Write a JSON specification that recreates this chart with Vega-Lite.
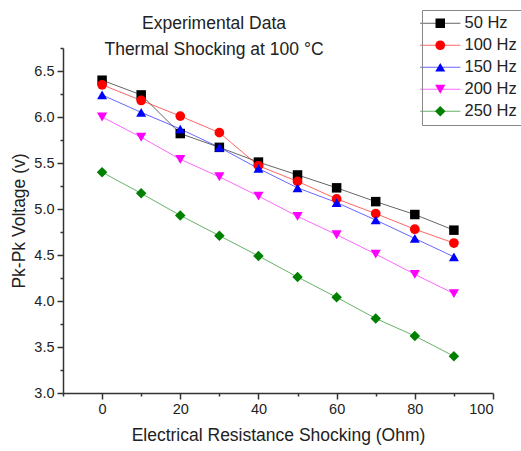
{
  "$schema": "https://vega.github.io/schema/vega-lite/v6.json",
  "width": 430,
  "height": 345,
  "autosize": {"type": "none"},
  "padding": {"left": 63, "top": 48, "right": 28, "bottom": 58},
  "background": "white",
  "title": {
    "text": ["Experimental Data", "Thermal Shocking at 100 °C"],
    "anchor": "middle",
    "frame": "group",
    "dx": -64,
    "dy": 38,
    "offset": -11,
    "fontSize": 17.5,
    "font": "Liberation Sans",
    "fontWeight": "normal",
    "color": "#222",
    "lineHeight": 26
  },
  "config": {
    "view": {"stroke": null},
    "axis": {
      "grid": false,
      "domainColor": "#333",
      "tickColor": "#333",
      "labelColor": "#222",
      "titleColor": "#222",
      "labelFont": "Liberation Sans",
      "titleFont": "Liberation Sans",
      "labelFontSize": 14.5,
      "titleFontSize": 17.5,
      "titleFontWeight": "normal",
      "tickSize": 6,
      "domainWidth": 1.5,
      "tickWidth": 1.5
    },
    "legend": {
      "labelFont": "Liberation Sans",
      "labelFontSize": 16.5,
      "labelColor": "#222"
    }
  },
  "data": {
    "values": [
      {"freq": "50 Hz", "r": 0, "v": 6.40}, {"freq": "50 Hz", "r": 10, "v": 6.24}, {"freq": "50 Hz", "r": 20, "v": 5.82}, {"freq": "50 Hz", "r": 30, "v": 5.67}, {"freq": "50 Hz", "r": 40, "v": 5.51}, {"freq": "50 Hz", "r": 50, "v": 5.37}, {"freq": "50 Hz", "r": 60, "v": 5.23}, {"freq": "50 Hz", "r": 70, "v": 5.08}, {"freq": "50 Hz", "r": 80, "v": 4.94}, {"freq": "50 Hz", "r": 90, "v": 4.77},
      {"freq": "100 Hz", "r": 0, "v": 6.35}, {"freq": "100 Hz", "r": 10, "v": 6.18}, {"freq": "100 Hz", "r": 20, "v": 6.01}, {"freq": "100 Hz", "r": 30, "v": 5.83}, {"freq": "100 Hz", "r": 40, "v": 5.47}, {"freq": "100 Hz", "r": 50, "v": 5.30}, {"freq": "100 Hz", "r": 60, "v": 5.11}, {"freq": "100 Hz", "r": 70, "v": 4.95}, {"freq": "100 Hz", "r": 80, "v": 4.78}, {"freq": "100 Hz", "r": 90, "v": 4.63},
      {"freq": "150 Hz", "r": 0, "v": 6.24}, {"freq": "150 Hz", "r": 10, "v": 6.05}, {"freq": "150 Hz", "r": 20, "v": 5.87}, {"freq": "150 Hz", "r": 30, "v": 5.67}, {"freq": "150 Hz", "r": 40, "v": 5.44}, {"freq": "150 Hz", "r": 50, "v": 5.23}, {"freq": "150 Hz", "r": 60, "v": 5.07}, {"freq": "150 Hz", "r": 70, "v": 4.88}, {"freq": "150 Hz", "r": 80, "v": 4.68}, {"freq": "150 Hz", "r": 90, "v": 4.48},
      {"freq": "200 Hz", "r": 0, "v": 6.00}, {"freq": "200 Hz", "r": 10, "v": 5.78}, {"freq": "200 Hz", "r": 20, "v": 5.54}, {"freq": "200 Hz", "r": 30, "v": 5.35}, {"freq": "200 Hz", "r": 40, "v": 5.14}, {"freq": "200 Hz", "r": 50, "v": 4.92}, {"freq": "200 Hz", "r": 60, "v": 4.72}, {"freq": "200 Hz", "r": 70, "v": 4.51}, {"freq": "200 Hz", "r": 80, "v": 4.29}, {"freq": "200 Hz", "r": 90, "v": 4.08},
      {"freq": "250 Hz", "r": 0, "v": 5.40}, {"freq": "250 Hz", "r": 10, "v": 5.17}, {"freq": "250 Hz", "r": 20, "v": 4.93}, {"freq": "250 Hz", "r": 30, "v": 4.71}, {"freq": "250 Hz", "r": 40, "v": 4.49}, {"freq": "250 Hz", "r": 50, "v": 4.26}, {"freq": "250 Hz", "r": 60, "v": 4.04}, {"freq": "250 Hz", "r": 70, "v": 3.81}, {"freq": "250 Hz", "r": 80, "v": 3.62}, {"freq": "250 Hz", "r": 90, "v": 3.40}
    ]
  },
  "layer": [
    {
      "mark": {"type": "line", "strokeWidth": 1, "opacity": 0.6},
      "encoding": {
        "x": {"field": "r", "type": "quantitative", "scale": {"domain": [-10, 100], "nice": false, "zero": false},
          "axis": {"orient": "bottom", "values": [-10, 10, 30, 50, 70, 90], "labels": false, "title": null, "tickSize": 3, "domain": false}},
        "y": {"field": "v", "type": "quantitative", "scale": {"domain": [3.0, 6.75], "nice": false, "zero": false},
          "axis": {"orient": "left", "values": [3.25, 3.75, 4.25, 4.75, 5.25, 5.75, 6.25, 6.75], "labels": false, "title": null, "tickSize": 3, "domain": false}},
        "stroke": {"field": "freq", "type": "nominal",
          "sort": ["50 Hz", "100 Hz", "150 Hz", "200 Hz", "250 Hz"],
          "scale": {"range": ["#000000", "#ff0000", "#0000ff", "#ff00ff", "#008000"]},
          "legend": {"title": null, "orient": "none", "legendX": 359, "legendY": -38, "padding": 5, "rowPadding": 5, "symbolSize": 80, "symbolOffset": 5, "labelOffset": 16, "symbolType": "M-4.5,0H4.5", "symbolStrokeWidth": 1, "symbolOpacity": 0.6, "labelOpacity": 0, "labelExpr": "''"}},
        "detail": {"field": "freq"}
      }
    },
    {
      "mark": {"type": "point", "filled": true, "opacity": 1},
      "encoding": {
        "x": {"field": "r", "type": "quantitative",
          "axis": {"orient": "bottom", "values": [0, 20, 40, 60, 80, 100], "title": "Electrical Resistance Shocking (Ohm)", "titlePadding": 11, "labelPadding": 3}},
        "y": {"field": "v", "type": "quantitative",
          "axis": {"orient": "left", "values": [3.0, 3.5, 4.0, 4.5, 5.0, 5.5, 6.0, 6.5], "format": ".1f", "title": "Pk-Pk Voltage (v)", "titlePadding": 5, "labelPadding": 3}},
        "color": {"field": "freq", "type": "nominal",
          "scale": {"domain": ["50 Hz", "100 Hz", "150 Hz", "200 Hz", "250 Hz"], "range": ["#000000", "#ff0000", "#0000ff", "#ff00ff", "#008000"]},
          "legend": {"title": null, "orient": "none", "legendX": 359, "legendY": -38, "strokeColor": "#888", "padding": 5, "rowPadding": 5, "symbolSize": 80, "symbolOffset": 5, "labelOffset": 16}},
        "shape": {"field": "freq", "type": "nominal",
          "scale": {"domain": ["50 Hz", "100 Hz", "150 Hz", "200 Hz", "250 Hz"], "range": ["square", "circle", "triangle-up", "triangle-down", "diamond"]},
          "legend": {"title": null, "orient": "none", "legendX": 359, "legendY": -38, "strokeColor": "#888", "padding": 5, "rowPadding": 5, "symbolSize": 80, "symbolOffset": 5, "labelOffset": 16}},
        "size": {"field": "freq", "type": "nominal", "legend": null,
          "scale": {"domain": ["50 Hz", "100 Hz", "150 Hz", "200 Hz", "250 Hz"], "range": [90, 110, 150, 150, 120]}}
      }
    }
  ],
  "resolve": {"axis": {"x": "independent", "y": "independent"}}
}
